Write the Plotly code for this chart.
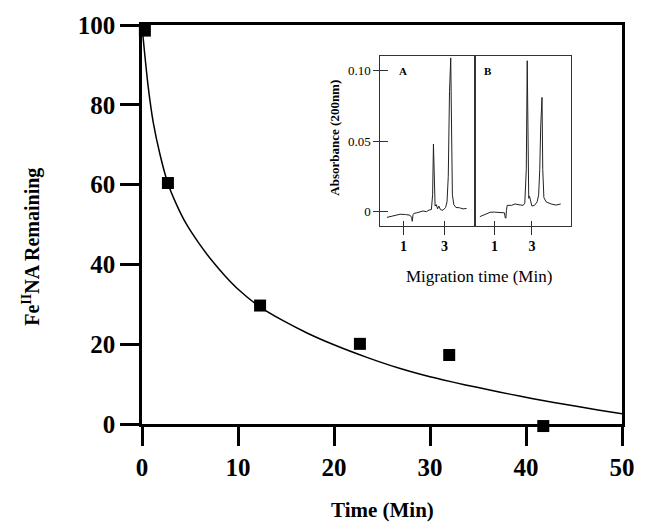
import plotly.graph_objects as go

# ---- main data ----
pts_t = [0.3, 2.7, 12.3, 22.7, 32.0, 41.8]
pts_y = [98.6, 60.4, 29.7, 20.1, 17.3, -0.5]

curve_t = [0, 0.13, 0.3, 0.62, 1.17, 1.9, 2.7, 3.6, 4.6, 5.9, 7.3, 8.7, 10.1, 12.2,
           14.7, 17.3, 19.8, 22.4, 24.6, 26.9, 29.1, 31.3, 33.7, 36.1, 38.3, 40.6,
           42.9, 45.1, 47.5, 50]
curve_y = [100, 96.5, 92.3, 85.0, 75.6, 67.3, 60.3, 55.0, 50.2, 45.4, 40.9, 37.0, 33.6, 29.5,
           25.9, 22.7, 20.05, 17.6, 15.7, 13.9, 12.4, 11.1, 9.8, 8.6, 7.5, 6.4,
           5.4, 4.5, 3.5, 2.55]

x_ticks = [0, 10, 20, 30, 40, 50]
y_ticks = [0, 20, 40, 60, 80, 100]

# ---- inset chromatograms ----
a_t = [0.2, 0.55, 0.84, 1.1, 1.32, 1.40, 1.43, 1.47, 1.51, 1.65, 1.8, 1.95, 2.12, 2.25,
       2.36, 2.42, 2.46, 2.50, 2.54, 2.6, 2.66, 2.72, 2.8, 2.92, 3.05, 3.12, 3.18, 3.24,
       3.3, 3.34, 3.38, 3.45, 3.55, 3.72, 3.9, 4.07]
a_v = [-0.004, -0.0028, -0.0018, -0.002, -0.0025, -0.004, -0.0068, -0.002, -0.0012,
       -0.0008, 0.0, 0.0005, 0.0, 0.0012, 0.0015, 0.012, 0.048, 0.02, 0.004, 0.005,
       0.002, 0.004, 0.0015, 0.001, 0.003, 0.007, 0.025, 0.085, 0.109, 0.06, 0.012,
       0.005, 0.003, 0.0028, 0.002, 0.0023]

b_t = [0.22, 0.5, 0.77, 1.0, 1.21, 1.53, 1.58, 1.61, 1.64, 1.68, 1.91, 2.1, 2.26, 2.45,
       2.53, 2.62, 2.70, 2.75, 2.79, 2.83, 2.87, 2.9, 2.95, 3.0, 3.14, 3.28, 3.36, 3.42,
       3.47, 3.54, 3.58, 3.64, 3.76, 4.02, 4.28, 4.54]
b_v = [-0.0035, -0.002, -0.0004, -0.0003, -0.0005, -0.0008, -0.0045, -0.0045, 0.001,
       0.0045, 0.0045, 0.0055, 0.005, 0.005, 0.0045, 0.006, 0.03, 0.107, 0.03, 0.0095,
       0.011, 0.009, 0.006, 0.004, 0.0045, 0.007, 0.012, 0.03, 0.06, 0.081, 0.03, 0.01,
       0.007, 0.0055, 0.0047, 0.0055]

inset_y_ticks = [0, 0.05, 0.10]
inset_y_text = ["0", "0.05", "0.10"]
inset_x_ticks = [1, 3]

SERIF = "Liberation Serif"

# main y axis occupies [D, 1] of the plot height; marker axis spans [0, 1] with same mapping
PLOT_H = 410
D = 8 / PLOT_H
Y5_LOW = -100 * D / (1 - D)

fig = go.Figure()

fig.add_trace(go.Scatter(x=curve_t, y=curve_y, mode="lines",
                         line=dict(color="black", width=1.5, shape="spline", smoothing=0.5),
                         showlegend=False, cliponaxis=False))
fig.add_trace(go.Scatter(x=pts_t, y=pts_y, mode="markers", xaxis="x", yaxis="y5",
                         marker=dict(symbol="square", size=12, color="black"),
                         showlegend=False, cliponaxis=False))

fig.add_trace(go.Scatter(x=a_t, y=a_v, mode="lines", line=dict(color="#222", width=1),
                         xaxis="x2", yaxis="y2", showlegend=False))
fig.add_trace(go.Scatter(x=b_t, y=b_v, mode="lines", line=dict(color="#222", width=1),
                         xaxis="x3", yaxis="y3", showlegend=False))
# empty traces to realise tick-overlay axes
fig.add_trace(go.Scatter(x=[], y=[], xaxis="x4", yaxis="y2", showlegend=False))
fig.add_trace(go.Scatter(x=[], y=[], xaxis="x5", yaxis="y3", showlegend=False))
fig.add_trace(go.Scatter(x=[], y=[], xaxis="x2", yaxis="y4", showlegend=False))

main_tick_font = dict(family=SERIF, size=25, color="black", weight="bold")

A_RANGE = [-0.12, 4.47]
B_RANGE = [-0.05, 5.07]
V_RANGE = [-0.0098, 0.1105]
A_DOM = [0.4965, 0.6934]
B_DOM = [0.6934, 0.893]
V_DOM = [0.5073, 0.9244]

inset_line = dict(showline=True, linecolor="#333", linewidth=1, mirror=True,
                  showgrid=False, zeroline=False)

fig.update_layout(
    width=647, height=530,
    margin=dict(l=142, r=19, t=22, b=530 - 22 - PLOT_H),
    paper_bgcolor="white", plot_bgcolor="rgba(0,0,0,0)",
    xaxis=dict(range=[0, 50], tickvals=x_ticks, ticks="outside", ticklen=19, tickwidth=2.5,
               tickcolor="black", showline=True, linewidth=2.5, linecolor="black",
               mirror=True, showgrid=False, zeroline=False, tickfont=main_tick_font),
    yaxis=dict(domain=[D, 1], range=[0, 100], tickvals=y_ticks, ticks="outside",
               ticklen=19, tickwidth=2.5,
               tickcolor="black", showline=True, linewidth=2.5, linecolor="black",
               mirror=True, showgrid=False, zeroline=False, tickfont=main_tick_font),
    yaxis5=dict(domain=[0, 1], range=[Y5_LOW, 100], anchor="x", visible=False,
                showgrid=False, zeroline=False),
    xaxis2=dict(domain=A_DOM, range=A_RANGE, anchor="y2", tickvals=inset_x_ticks,
                ticks="outside", ticklen=8, tickwidth=1, tickcolor="#333",
                tickfont=dict(family=SERIF, size=14, color="black", weight="bold"),
                **inset_line),
    xaxis3=dict(domain=B_DOM, range=B_RANGE, anchor="y3", tickvals=inset_x_ticks,
                ticks="outside", ticklen=8, tickwidth=1, tickcolor="#333",
                tickfont=dict(family=SERIF, size=14, color="black", weight="bold"),
                **inset_line),
    xaxis4=dict(domain=A_DOM, range=A_RANGE, anchor="y2", overlaying="x2",
                tickvals=inset_x_ticks, ticks="inside", ticklen=5, tickwidth=1,
                tickcolor="#333", showticklabels=False, showgrid=False, zeroline=False),
    xaxis5=dict(domain=B_DOM, range=B_RANGE, anchor="y3", overlaying="x3",
                tickvals=inset_x_ticks, ticks="inside", ticklen=5, tickwidth=1,
                tickcolor="#333", showticklabels=False, showgrid=False, zeroline=False),
    yaxis2=dict(domain=V_DOM, range=V_RANGE, anchor="x2", tickvals=inset_y_ticks,
                ticktext=inset_y_text, ticks="outside", ticklen=6, tickwidth=1,
                tickcolor="#333", tickfont=dict(family=SERIF, size=13, color="black"),
                **inset_line),
    yaxis3=dict(domain=V_DOM, range=V_RANGE, anchor="x3", showticklabels=False,
                ticks="", **inset_line),
    yaxis4=dict(domain=V_DOM, range=V_RANGE, anchor="x2", overlaying="y2",
                tickvals=inset_y_ticks, ticks="inside", ticklen=8, tickwidth=1,
                tickcolor="#333", showticklabels=False, showgrid=False, zeroline=False),
    annotations=[
        dict(text="Fe<sup>II</sup>NA Remaining", xref="paper", yref="paper",
             x=-0.2305, y=0.456, textangle=-90, showarrow=False,
             xanchor="center", yanchor="middle",
             font=dict(family=SERIF, size=20, color="black", weight="bold")),
        dict(text="Time (Min)", xref="paper", yref="paper", x=0.5, y=-0.1927,
             showarrow=False, xanchor="center", yanchor="middle",
             font=dict(family=SERIF, size=21, color="black", weight="bold")),
        dict(text="Migration time (Min)", xref="paper", yref="paper", x=0.7016, y=0.3829,
             showarrow=False, xanchor="center", yanchor="middle",
             font=dict(family=SERIF, size=17, color="black")),
        dict(text="Absorbance (200nm)", xref="paper", yref="paper", x=0.401, y=0.7244,
             textangle=-90, showarrow=False, xanchor="center", yanchor="middle",
             font=dict(family=SERIF, size=13, color="black", weight="bold")),
        dict(text="A", xref="paper", yref="paper", x=0.543, y=0.8878, showarrow=False,
             xanchor="center", yanchor="middle",
             font=dict(family=SERIF, size=11, color="black", weight="bold")),
        dict(text="B", xref="paper", yref="paper", x=0.720, y=0.8878, showarrow=False,
             xanchor="center", yanchor="middle",
             font=dict(family=SERIF, size=11, color="black", weight="bold")),
    ],
)

fig.write_html("out.html")
